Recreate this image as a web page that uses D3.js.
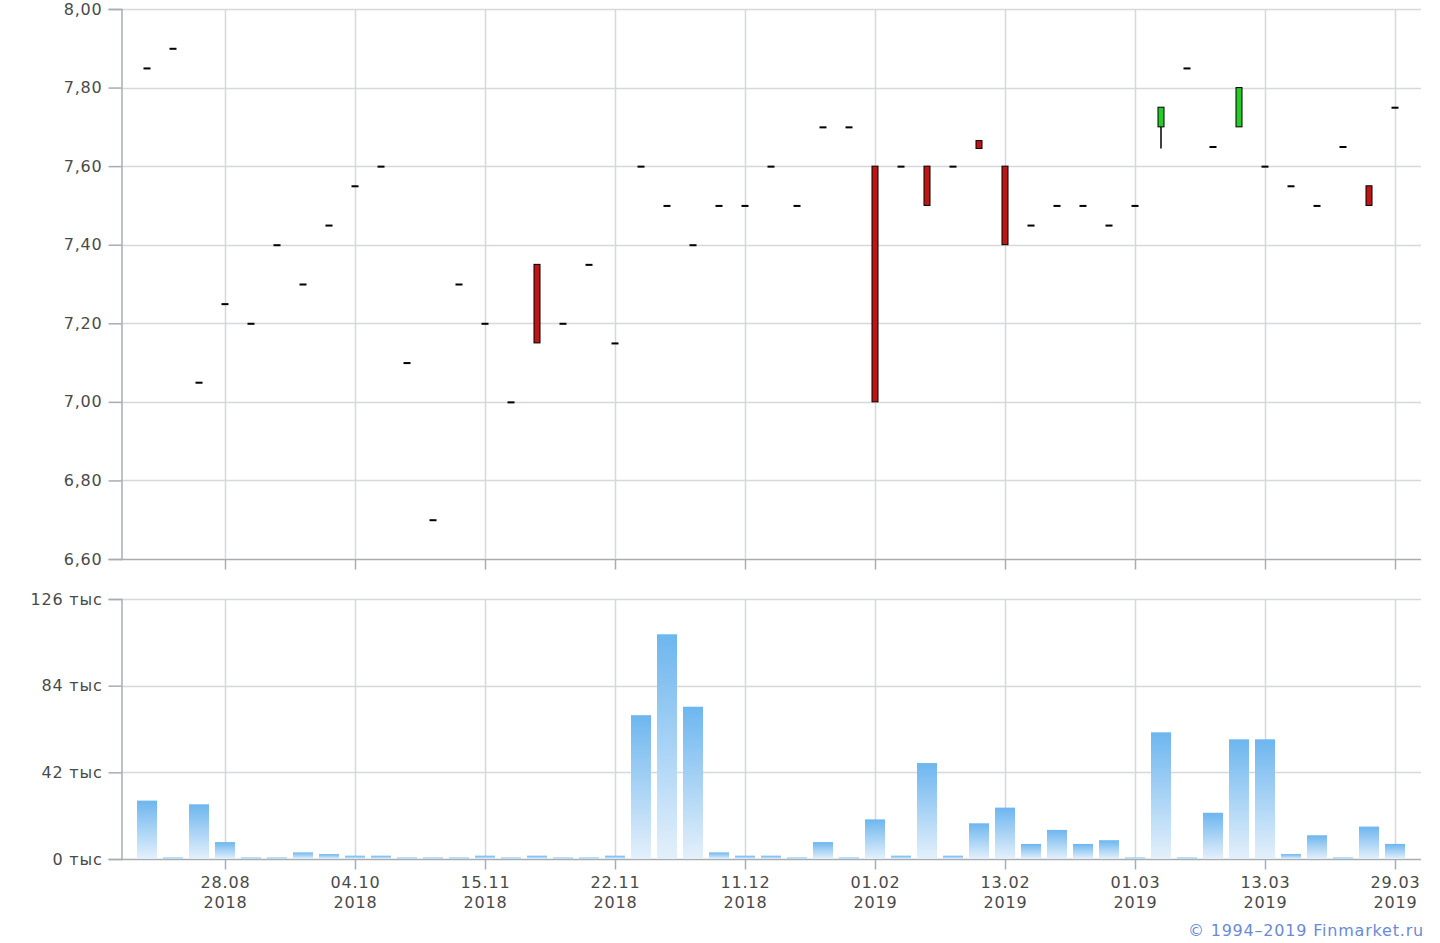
<!DOCTYPE html>
<html><head><meta charset="utf-8">
<script src="https://cdn.jsdelivr.net/npm/d3@7"></script>
<style>body{margin:0;background:#fff}svg{display:block}</style>
</head><body>
<script>
// ---- data ----
const openP  = [7.85,7.90,7.05,7.25,7.20,7.40,7.30,7.45,7.55,7.60,7.10,6.70,7.30,7.20,7.00,7.35,7.20,7.35,7.15,7.60,7.50,7.40,7.50,7.50,7.60,7.50,7.70,7.70,7.60,7.60,7.60,7.60,7.665,7.60,7.45,7.50,7.50,7.45,7.50,7.70,7.85,7.65,7.70,7.60,7.55,7.50,7.65,7.55,7.75];
const closeP = [7.85,7.90,7.05,7.25,7.20,7.40,7.30,7.45,7.55,7.60,7.10,6.70,7.30,7.20,7.00,7.15,7.20,7.35,7.15,7.60,7.50,7.40,7.50,7.50,7.60,7.50,7.70,7.70,7.00,7.60,7.50,7.60,7.645,7.40,7.45,7.50,7.50,7.45,7.50,7.75,7.85,7.65,7.80,7.60,7.55,7.50,7.65,7.50,7.75];
const highP  = [7.85,7.90,7.05,7.25,7.20,7.40,7.30,7.45,7.55,7.60,7.10,6.70,7.30,7.20,7.00,7.35,7.20,7.35,7.15,7.60,7.50,7.40,7.50,7.50,7.60,7.50,7.70,7.70,7.60,7.60,7.60,7.60,7.665,7.60,7.45,7.50,7.50,7.45,7.50,7.75,7.85,7.65,7.80,7.60,7.55,7.50,7.65,7.55,7.75];
const lowP   = [7.85,7.90,7.05,7.25,7.20,7.40,7.30,7.45,7.55,7.60,7.10,6.70,7.30,7.20,7.00,7.15,7.20,7.35,7.15,7.60,7.50,7.40,7.50,7.50,7.60,7.50,7.70,7.70,7.00,7.60,7.50,7.60,7.645,7.40,7.45,7.50,7.50,7.45,7.50,7.645,7.85,7.65,7.70,7.60,7.55,7.50,7.65,7.50,7.75];
const volume = [28.3,0.7,26.5,8.2,0.7,0.7,3.2,2.4,1.6,1.6,0.7,0.7,0.7,1.6,0.7,1.6,0.7,0.7,1.6,69.7,108.9,73.8,3.2,1.6,1.6,0.7,8.2,0.7,19.2,1.6,46.5,1.6,17.3,24.9,7.3,14.1,7.3,9.1,0.7,61.4,0.7,22.4,58.0,58.0,2.4,11.5,0.7,15.7,7.3];
const tickIndex = [3,8,13,18,23,28,33,38,43,48];
const tickDates = ["28.08","04.10","15.11","22.11","11.12","01.02","13.02","01.03","13.03","29.03"];
const tickYears = ["2018","2018","2018","2018","2018","2019","2019","2019","2019","2019"];
const priceTicks = [6.6,6.8,7.0,7.2,7.4,7.6,7.8,8.0];
const volTicks = [0,42,84,126];

const W = 1440, H = 943;
const L = 121, R = 1421;
const pTop = 9, pBot = 559, vTop = 599, vBot = 859;
const FONT = "'DejaVu Sans', Verdana, sans-serif";
const FS = "16px", LS = "0.8px";
const gridC = "#d5d8dc", axisC = "#a9adb2", txtC = "#4a4a4a";

const svg = d3.select("body").append("svg").attr("width", W).attr("height", H);
const defs = svg.append("defs");
const grad = defs.append("linearGradient").attr("id","vg").attr("x1",0).attr("x2",0).attr("y1",0).attr("y2",1);
grad.append("stop").attr("offset","0%").attr("stop-color","#6db6ef");
grad.append("stop").attr("offset","100%").attr("stop-color","#e4f0fb");

const idx = d3.range(openP.length);
const x = d3.scalePoint().domain(idx).range([L, R]).padding(1);
const yP = d3.scaleLinear().domain([6.6, 8.0]).range([pBot, pTop]);
const yV = d3.scaleLinear().domain([0, 126]).range([vBot, vTop]);

function panel(y, top, bot, ticks, fmt) {
  const g = svg.append("g");
  g.selectAll(".hg").data(ticks).enter().append("line")
    .attr("x1", L).attr("x2", R).attr("y1", d => Math.round(y(d)) + 0.5).attr("y2", d => Math.round(y(d)) + 0.5)
    .attr("stroke", d => d === ticks[0] ? axisC : gridC).attr("stroke-width", 1.5);
  g.selectAll(".vg").data(tickIndex).enter().append("line")
    .attr("x1", d => Math.round(x(d)) + 0.5).attr("x2", d => Math.round(x(d)) + 0.5)
    .attr("y1", top).attr("y2", bot)
    .attr("stroke", gridC).attr("stroke-width", 1.5);
  const ya = d3.axisLeft(y).tickValues(ticks).tickSize(13).tickPadding(6).tickFormat(fmt);
  const ag = g.append("g").attr("transform", `translate(${L + 0.5},0)`).call(ya);
  ag.select(".domain").attr("stroke", axisC).attr("stroke-width", 1.5);
  ag.selectAll(".tick line").attr("stroke", axisC).attr("stroke-width", 1.5);
  ag.selectAll("text").attr("fill", txtC).style("font-family", FONT).style("font-size", FS).style("letter-spacing", LS);
  const xa = d3.axisBottom(x).tickValues(tickIndex).tickSize(10).tickFormat("");
  const bg = g.append("g").attr("transform", `translate(0,${bot + 0.5})`).call(xa);
  bg.select(".domain").remove();
  bg.selectAll(".tick line").attr("stroke", axisC).attr("stroke-width", 1.5);
  return bg;
}

panel(yP, pTop, pBot, priceTicks, d => d3.format(".2f")(d).replace(".", ","));
const vb = panel(yV, vTop, vBot, volTicks, d => d + " тыс");

vb.selectAll(".tick").each(function(d, i) {
  const t = d3.select(this).append("text").attr("fill", txtC).attr("text-anchor", "middle")
    .style("font-family", FONT).style("font-size", FS).style("letter-spacing", LS);
  t.append("tspan").attr("x", 0).attr("y", 28).text(tickDates[i]);
  t.append("tspan").attr("x", 0).attr("y", 48).text(tickYears[i]);
});

// candles
const cg = svg.append("g");
idx.forEach(i => {
  const cx = x(i), o = openP[i], c = closeP[i], h = highP[i], l = lowP[i];
  if (o === c && h === l) {
    cg.append("rect").attr("x", cx - 3.5).attr("y", yP(c) - 0.5).attr("width", 7).attr("height", 2).attr("fill", "#000");
    return;
  }
  const top = Math.max(o, c), bot = Math.min(o, c);
  if (h > top) cg.append("line").attr("x1", cx).attr("x2", cx).attr("y1", yP(h)).attr("y2", yP(top)).attr("stroke", "#000").attr("stroke-width", 1.5);
  if (l < bot) cg.append("line").attr("x1", cx).attr("x2", cx).attr("y1", yP(bot)).attr("y2", yP(l)).attr("stroke", "#000").attr("stroke-width", 1.5);
  cg.append("rect").attr("x", cx - 3).attr("y", yP(top)).attr("width", 6).attr("height", Math.max(1, yP(bot) - yP(top)))
    .attr("fill", c < o ? "#c01515" : "#25cc25").attr("stroke", "#000").attr("stroke-width", 1);
});

// volume bars
svg.append("g").selectAll("rect").data(idx).enter().append("rect")
  .attr("x", i => x(i) - 10).attr("width", 20)
  .attr("y", i => yV(volume[i])).attr("height", i => yV(0) - yV(volume[i]))
  .attr("fill", "url(#vg)");

svg.append("text").attr("x", 1424).attr("y", 936).attr("text-anchor", "end")
  .attr("fill", "#6b8ad6").style("font-family", FONT).style("font-size", FS).style("letter-spacing", LS)
  .text("© 1994–2019 Finmarket.ru");
</script>
</body></html>
